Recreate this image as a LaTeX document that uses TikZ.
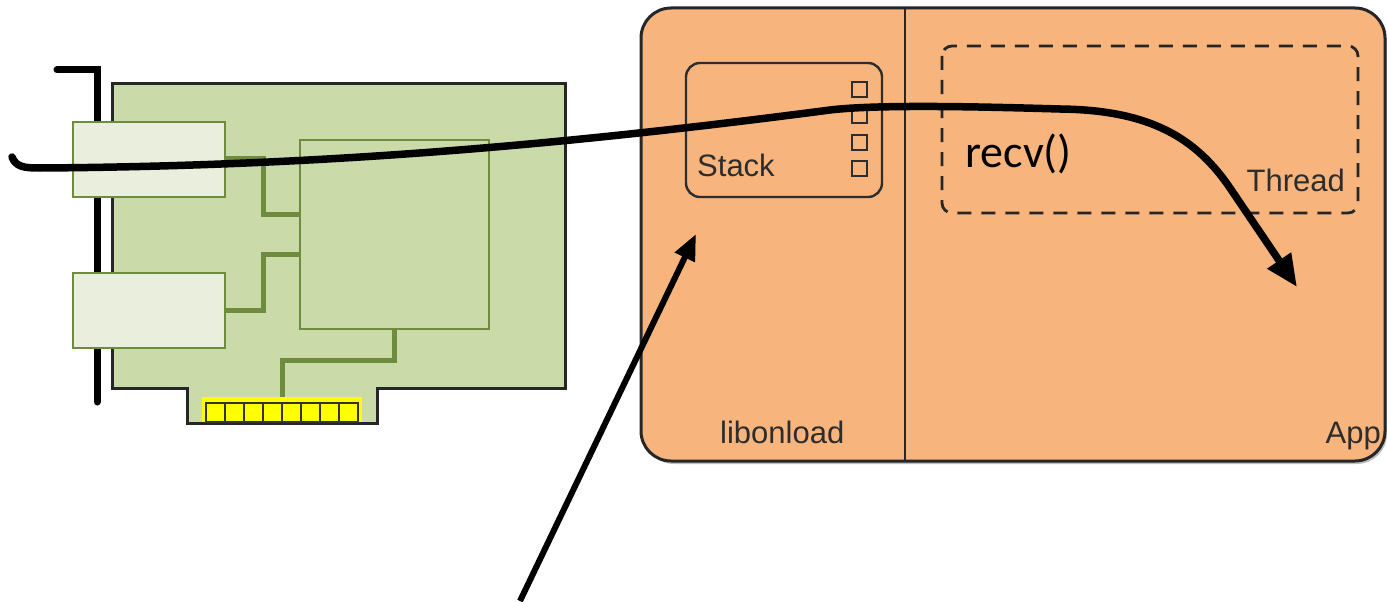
\documentclass[tikz,border=0pt]{standalone}
\usepackage{fontspec}
\setmainfont{Liberation Sans}
\newfontfamily\callfont{Carlito}
\definecolor{boardgreen}{RGB}{202, 218, 169}
\definecolor{portfill}{RGB}{234, 238, 221}
\definecolor{traceolive}{RGB}{111, 139, 61}
\definecolor{appfill}{RGB}{247, 180, 125}
\definecolor{labelgray}{RGB}{45, 45, 45}
\definecolor{pinyellow}{RGB}{255, 255, 0}
\usetikzlibrary{arrows.meta, positioning, calc}

\tikzset{
  port/.style={draw=traceolive, line width=2.6pt, fill=portfill},
  trace/.style={draw=traceolive, line width=5pt},
  pin/.style={draw=black!80, line width=1.4pt, fill=pinyellow},
  slot/.style={draw=labelgray, line width=2pt},
  lbl/.style={inner sep=0pt, text=labelgray, font=\fontsize{31}{36}\selectfont},
  wire/.style={line width=7.5pt, line cap=round},
}

\begin{document}
\begin{tikzpicture}[x=1pt, y=-1pt]
  \useasboundingbox (0,0) rectangle (1387,602);

  % NIC: bracket, board, ports, chip and traces
  \draw[line width=7pt, line cap=round] (57,70) -- (97,70) -- (97,402);
  \draw[draw=black!85, line width=3pt, fill=boardgreen]
    (112,84) -- (565,84) -- (565,388) -- (377,388) -- (377,423)
    -- (187,423) -- (187,388) -- (112,388) -- cycle;
  \draw[port] (73,122) rectangle (225,197);
  \draw[port] (73,273) rectangle (225,348);
  \draw[trace] (225,158) -- (263,158) -- (263,214) -- (300,214);
  \draw[trace] (225,310) -- (263,310) -- (263,254) -- (300,254);
  \draw[trace] (394,329) -- (394,360) -- (282,360) -- (282,397);
  \draw[draw=traceolive, line width=2.6pt] (300,140) rectangle (489,329);

  % edge connector
  \fill[pinyellow] (202,397) rectangle (362,422);
  \foreach \i in {0,...,7}
    \draw[pin] ({206+19*\i},403) rectangle +(19,19);

  % host side
  \fill[black!25] (644,12) [rounded corners=30pt] rectangle (1387,464);
  \draw[draw=black!85, line width=3pt, fill=appfill, rounded corners=30pt]
    (641,8) rectangle (1385,461);
  \draw[line width=2.6pt, black!85] (905,8) -- (905,461);

  % stack box with its queues
  \draw[slot, line width=2.4pt, rounded corners=14pt] (686,63) rectangle (882,197);
  \foreach \k in {0,...,3}
    \draw[slot] (852,{82+26.3*\k}) rectangle +(15,15);
  \node[lbl, anchor=base west] (stack) at (697,176) {Stack};

  % application thread
  \draw[line width=2.8pt, black!85, dash pattern=on 14pt off 10pt, rounded corners=10pt]
    (942,46) rectangle (1358,213);
  \node[lbl, anchor=base east] (thread) at (1345,191) {Thread};
  \node[inner sep=0pt, anchor=base west, font=\callfont\fontsize{46}{52}\selectfont] (recv) at (965,167) {recv()};

  \node[lbl, anchor=base west] (lib) at (720,443) {libonload};
  \node[lbl, anchor=base east] (app) at (1381,443) {App};

  % packet path from the wire up into the thread
  \coordinate (wirein) at (12,157);
  \coordinate (wireout) at (1297,287);
  \draw[wire, -{Triangle[length=32pt, width=27pt]}] (wirein)
    .. controls (16,167) and (24,168) .. (40,168)
    .. controls (350,166) and (600,140) .. (830,110)
    .. controls (880,104) and (990,107) .. (1060,109)
    .. controls (1150,110) and (1196,138) .. (1230,188)
    -- (wireout);

  % pointer into libonload
  \coordinate (ptrfrom) at (520,601);
  \coordinate (ptrto) at (696,234);
  \draw[line width=6pt, -{Triangle[length=26pt, width=21pt]}] (ptrfrom) -- (ptrto);
\end{tikzpicture}
\end{document}
